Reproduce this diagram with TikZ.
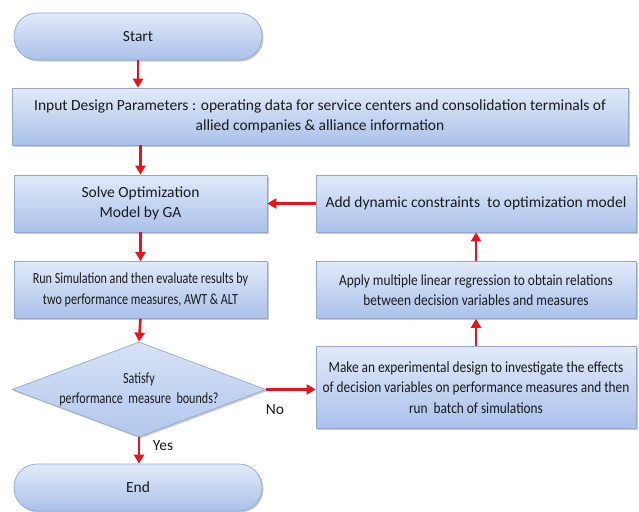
\documentclass[tikz,border=0pt]{standalone}
\usepackage{fontspec}
\setmainfont{Carlito}
\newfontfamily\condfont{Carlito}[FakeStretch=0.86]
\newfontfamily\narrowfont{Carlito}[FakeStretch=0.78]
\usetikzlibrary{shapes.geometric,arrows.meta,shadows}
\definecolor{boxtop}{HTML}{E2EAF9}
\definecolor{boxbot}{HTML}{A9C1EA}
\definecolor{boxline}{HTML}{93A8CC}
\definecolor{arrred}{HTML}{E8141B}
\definecolor{txt}{HTML}{1A1A1A}
\begin{document}
\begin{tikzpicture}[x=1pt,y=-1pt,
  boxbase/.style={draw=boxline, line width=0.7pt, top color=boxtop, bottom color=boxbot,
    drop shadow={shadow xshift=1.5pt, shadow yshift=-1.5pt, opacity=0.35, fill=black!60},
    align=center, inner sep=2pt, text=txt, font=\fontsize{15.5}{20.5}\selectfont},
  procbox/.style={boxbase, rectangle, minimum width=#1, minimum height=57pt},
  termbox/.style={boxbase, rectangle, rounded corners=23pt, minimum width=248pt, minimum height=47pt},
  decbox/.style={draw=boxline, line width=0.7pt, top color=boxtop!80!boxbot, bottom color=boxbot!90,
    drop shadow={shadow xshift=1.5pt, shadow yshift=-1.5pt, opacity=0.35, fill=black!60},
    diamond, aspect=2.66, inner sep=0pt, minimum width=254pt, minimum height=95pt, align=center, text=txt},
  condtxt/.style={font=\condfont\fontsize{15.5}{20.5}\selectfont},
  narrowtxt/.style={font=\narrowfont\fontsize{15.5}{20.5}\selectfont},
  arr/.style={draw=arrred, line width=2.6pt, -{Triangle[length=9pt,width=10pt]}},
  lbl/.style={font=\fontsize{15.5}{18}\selectfont, text=txt}
]
\useasboundingbox (0,0) rectangle (639,511);
\node[termbox] (start) at (138,36.5) {Start};
\node[procbox=616pt] (input) at (320,116.5) {Input Design Parameters : operating data for service centers and consolidation terminals of\\allied companies \& alliance information};
\node[procbox=253pt] (solve) at (140.5,203.5) {Solve Optimization\\Model by GA};
\node[procbox=320pt] (add) at (476,203.5) {Add dynamic constraints \ to optimization model};
\node[procbox=253pt, narrowtxt] (run) at (140.5,290) {Run Simulation and then evaluate results by\\two performance measures, AWT \& ALT};
\node[procbox=320pt, condtxt] (apply) at (476,290) {Apply multiple linear regression to obtain relations\\between decision variables and measures};
\node[decbox, narrowtxt] (dec) at (139,389.5) {Satisfy\\performance \ measure \ bounds?};
\node[procbox=320pt, minimum height=82pt, condtxt] (exp) at (476,387.5) {Make an experimental design to investigate the effects\\of decision variables on performance measures and then\\run \ batch of simulations};
\node[termbox] (end) at (138,487.5) {End};
\draw[arr] (start.south) -- (start.south |- input.north);
\draw[arr] (input.south -| solve.north) -- (solve.north);
\draw[arr] (solve) -- (run);
\draw[arr] (run.south) -- (dec.north);
\draw[arr] (dec.south) -- (dec.south |- end.north);
\draw[arr] (dec.east) -- (dec.east -| exp.west);
\draw[arr] (exp.north) -- (apply.south);
\draw[arr] (apply.north) -- (add.south);
\draw[arr] (add.west) -- (solve.east);
\node[lbl] (no) at (275,410) {No};
\node[lbl] (yes) at (163,446) {Yes};
\end{tikzpicture}
\end{document}
